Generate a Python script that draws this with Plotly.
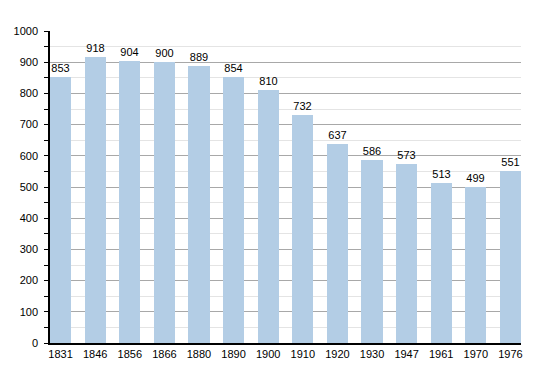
import plotly.graph_objects as go

years = ["1831", "1846", "1856", "1866", "1880", "1890", "1900", "1910", "1920", "1930", "1947", "1961", "1970", "1976"]
population = [853, 918, 904, 900, 889, 854, 810, 732, 637, 586, 573, 513, 499, 551]
y_ticks = [0, 100, 200, 300, 400, 500, 600, 700, 800, 900, 1000]

xpos = list(range(len(years)))
bw = 0.61

fig = go.Figure()
fig.add_trace(go.Bar(
    x=xpos, y=population, width=bw,
    marker=dict(color="#b3cde5", line=dict(width=0)),
    text=[str(v) for v in population], textposition="outside",
    textfont=dict(family="Liberation Sans, Arial", size=11, color="#000"),
    cliponaxis=False,
))
# page body has an 8px default margin, so margins are compensated
fig.update_layout(
    width=550, height=373,
    margin=dict(l=42, r=37, t=23, b=38, autoexpand=False),
    paper_bgcolor="white", plot_bgcolor="white",
    showlegend=False,
    bargap=0,
    font=dict(family="Liberation Sans, Arial", size=11, color="#000"),
)
fig.update_xaxes(
    range=[-bw / 2, len(years) - 1 + bw / 2],
    tickvals=xpos, ticktext=years,
    showgrid=False, showline=True, linecolor="#000", linewidth=1.5,
    ticks="", tickfont=dict(size=11), fixedrange=True, automargin=False,
)
fig.update_yaxes(
    range=[0, 1000], tickvals=y_ticks,
    showgrid=True, gridcolor="#a8a8a8", gridwidth=1,
    minor=dict(dtick=50, showgrid=True, gridcolor="#e4e4e4", ticks="outside", ticklen=4, tickcolor="#000"),
    showline=True, linecolor="#000", linewidth=1.5,
    ticks="", ticklabelstandoff=8,
    zeroline=False, tickfont=dict(size=11), automargin=False,
)
fig.write_html("out.html")
